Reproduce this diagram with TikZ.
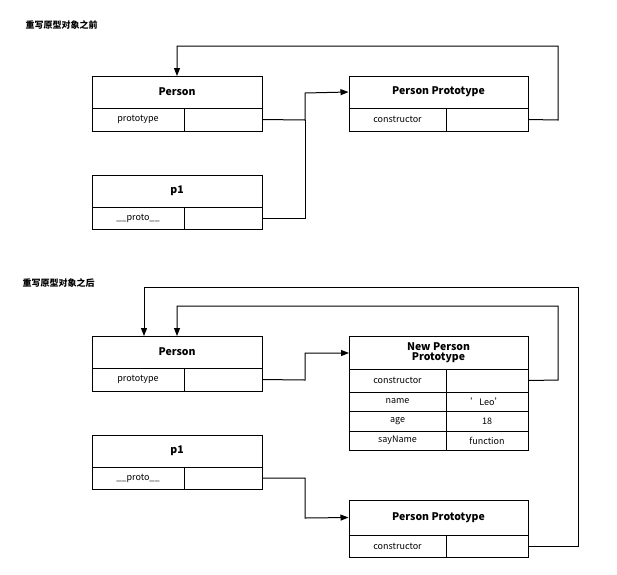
\documentclass[tikz,border=0pt]{standalone}
\usepackage{fontspec}
\setmainfont{Noto Sans CJK SC}
\usetikzlibrary{arrows.meta}
\begin{document}
\begin{tikzpicture}[x=1pt,y=-1pt,
 cell/.style={draw,line width=1pt,inner sep=0pt,font=\fontsize{9}{10}\selectfont},
 hd/.style={cell,font=\fontsize{10.5}{11}\selectfont\bfseries},
 title/.style={font=\fontsize{9}{10}\selectfont\bfseries,anchor=west},
 conn/.style={line width=1pt},
 arr/.style={conn,-{Triangle[length=8pt,width=6pt]}}]
\useasboundingbox (0,0) rectangle (617,574);
% helper: cell at (x1,y1)-(x2,y2)
\newcommand{\cel}[7][cell]{\node[#1,minimum width=#4-#2,minimum height=#5-#3] (#6) at ({(#2+#4)/2},{(#3+#5)/2}) {#7};}
\node[title] (t1) at (22,25) {重写原型对象之前};
\node[title] (t2) at (19,283) {重写原型对象之后};
% top
\cel[hd]{92}{76}{262}{108}{pA}{Person}
\cel{92}{108}{184}{131}{pAk}{prototype}
\cel{184}{108}{262}{131}{pAv}{}
\cel[hd]{349}{76}{528}{108}{ppA}{Person Prototype}
\cel{349}{108}{446}{131}{ppAk}{constructor}
\cel{446}{108}{528}{131}{ppAv}{}
\cel[hd]{92}{175}{262}{207}{p1A}{p1}
\cel{92}{207}{184}{229}{p1Ak}{\_\_proto\_\_}
\cel{184}{207}{262}{229}{p1Av}{}
\draw[arr] (pAv.east) -- (305,120) -- (305,93) -- (ppA.west);
\draw[conn] (p1Av.east) -- (305,218) -- (305,120);
\draw[arr] (ppAv.east) -- (558,120) -- (558,46) -- (177,46) -- (177,76);
% bottom
\cel[hd]{92}{336}{262}{368}{pB}{Person}
\cel{92}{368}{184}{391}{pBk}{prototype}
\cel{184}{368}{262}{391}{pBv}{}
\cel[hd]{349}{336}{528}{369}{np}{\shortstack{New Person\\[-1pt]Prototype}}
\cel{349}{369}{446}{392}{npk1}{constructor}
\cel{446}{369}{528}{392}{npv1}{}
\cel{349}{392}{446}{411}{npk2}{name}
\cel{446}{392}{528}{411}{npv2}{'Leo'}
\cel{349}{411}{446}{431}{npk3}{age}
\cel{446}{411}{528}{431}{npv3}{18}
\cel{349}{431}{446}{450}{npk4}{sayName}
\cel{446}{431}{528}{450}{npv4}{function}
\cel[hd]{92}{435}{262}{467}{p1B}{p1}
\cel{92}{467}{184}{489}{p1Bk}{\_\_proto\_\_}
\cel{184}{467}{262}{489}{p1Bv}{}
\cel[hd]{349}{500}{528}{535}{ppB}{Person Prototype}
\cel{349}{535}{446}{557}{ppBk}{constructor}
\cel{446}{535}{528}{557}{ppBv}{}
\draw[arr] (pBv.east) -- (305,380) -- (305,353) -- (349,353);
\draw[arr] (npv1.east) -- (558,380) -- (558,306) -- (177,306) -- (177,336);
\draw[arr] (p1Bv.east) -- (305,478) -- (305,518) -- (ppB.west);
\draw[arr] (ppBv.east) -- (578,546) -- (578,287) -- (144,287) -- (144,336);
\end{tikzpicture}
\end{document}
